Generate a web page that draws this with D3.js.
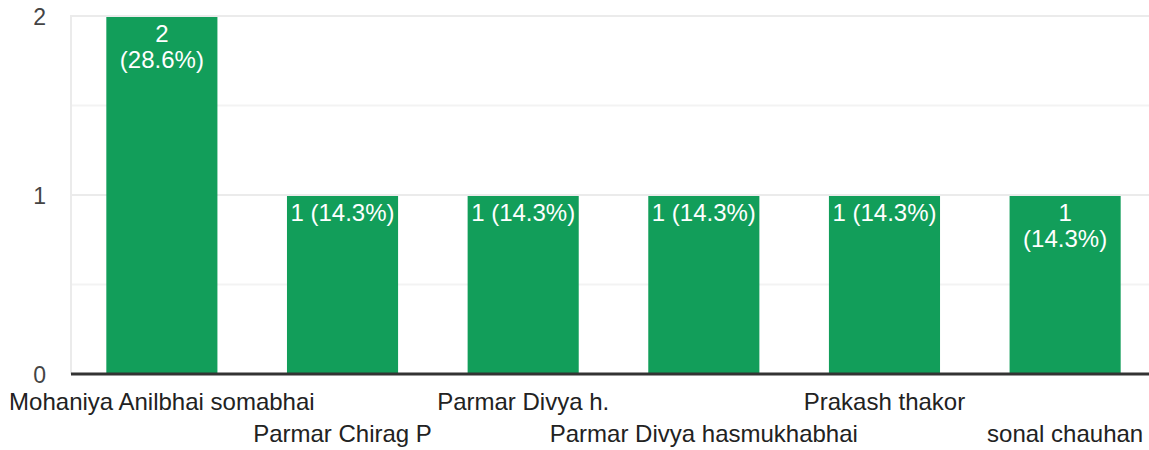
<!DOCTYPE html>
<html>
<head>
<meta charset="utf-8">
<script src="https://cdnjs.cloudflare.com/ajax/libs/d3/7.8.5/d3.min.js"></script>
<style>
  body { margin: 0; background: #fff; }
  svg { display: block; font-family: "Liberation Sans", Arial, sans-serif; }
</style>
</head>
<body>
<div id="chart"></div>
<script>
// data
const names = ["Mohaniya Anilbhai somabhai", "Parmar Chirag P", "Parmar Divya h.",
  "Parmar Divya hasmukhabhai", "Prakash thakor", "sonal chauhan"];
const counts = [2, 1, 1, 1, 1, 1];
const barLabels = [["2", "(28.6%)"], ["1 (14.3%)"], ["1 (14.3%)"], ["1 (14.3%)"], ["1 (14.3%)"], ["1", "(14.3%)"]];
const yTicks = [0, 1, 2];
const yMinor = [0.5, 1.5];

const width = 1149, height = 450;

const svg = d3.select("#chart")
  .append("svg")
  .attr("width", width)
  .attr("height", height);

const x = d3.scaleBand()
  .domain(names)
  .range([72, 1155])
  .paddingInner(0.385)
  .paddingOuter(0.19);

const y = d3.scaleLinear()
  .domain([0, 2])
  .range([374, 16]);

// minor gridlines
svg.selectAll(".minor")
  .data(yMinor)
  .join("line")
  .attr("x1", 71).attr("x2", width)
  .attr("y1", d => y(d)).attr("y2", d => y(d))
  .attr("stroke", "#f3f3f3")
  .attr("stroke-width", 2);

// major gridlines
svg.selectAll(".major")
  .data(yTicks.filter(d => d > 0))
  .join("line")
  .attr("x1", 71).attr("x2", width)
  .attr("y1", d => y(d)).attr("y2", d => y(d))
  .attr("stroke", "#ebebeb")
  .attr("stroke-width", 2);

// left vertical line
svg.append("line")
  .attr("x1", 71).attr("x2", 71)
  .attr("y1", y(2) - 1).attr("y2", y(0))
  .attr("stroke", "#ebebeb")
  .attr("stroke-width", 2);

// y tick labels
svg.selectAll(".ytick")
  .data(yTicks)
  .join("text")
  .attr("x", 46)
  .attr("y", d => y(d) + 9)
  .attr("text-anchor", "end")
  .attr("font-size", "23px")
  .attr("fill", "#444")
  .text(d => d);

// bars
svg.selectAll(".bar")
  .data(counts)
  .join("rect")
  .attr("x", (d, i) => x(names[i]))
  .attr("y", d => y(d) + 1)
  .attr("width", x.bandwidth())
  .attr("height", d => y(0) - y(d) - 1)
  .attr("fill", "#129e5a");

// labels inside bars
counts.forEach((c, i) => {
  const t = svg.append("text")
    .attr("text-anchor", "middle")
    .attr("font-size", "24px")
    .attr("fill", "#fff");
  barLabels[i].forEach((line, j) => {
    t.append("tspan")
      .attr("x", x(names[i]) + x.bandwidth() / 2)
      .attr("y", y(c) + 26 + j * 26)
      .text(line);
  });
});

// baseline
svg.append("line")
  .attr("x1", 71).attr("x2", width)
  .attr("y1", y(0)).attr("y2", y(0))
  .attr("stroke", "#333")
  .attr("stroke-width", 3);

// category labels, staggered on two rows
svg.selectAll(".xlab")
  .data(names)
  .join("text")
  .attr("x", d => x(d) + x.bandwidth() / 2)
  .attr("y", (d, i) => i % 2 === 0 ? 410 : 442)
  .attr("text-anchor", "middle")
  .attr("font-size", "24px")
  .attr("fill", "#222")
  .text(d => d);
</script>
</body>
</html>
